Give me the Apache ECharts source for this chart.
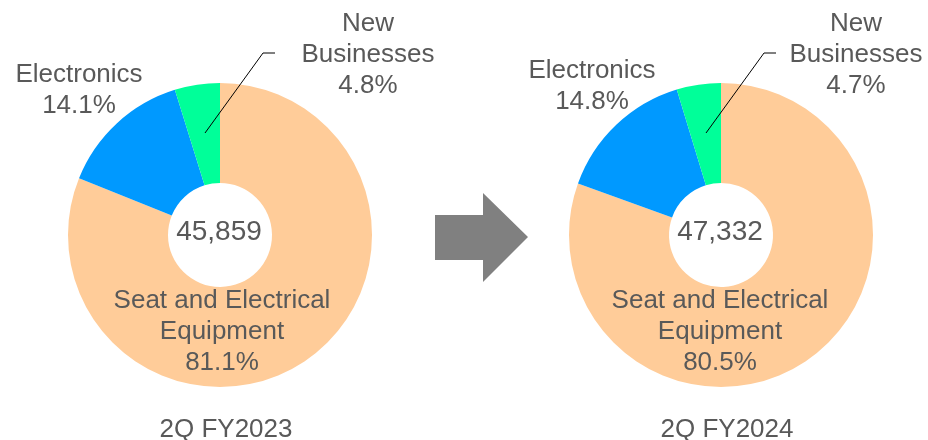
<!DOCTYPE html>
<html>
<head>
<meta charset="utf-8">
<script src="https://cdn.jsdelivr.net/npm/echarts@6/dist/echarts.min.js"></script>
<style>
  html, body { margin: 0; padding: 0; background: #fff; }
  #chart { width: 928px; height: 440px; }
</style>
</head>
<body>
<div id="chart"></div>
<script>
// Segment names and share of net sales (%) for each period
const segments = ['Seat and Electrical\nEquipment', 'Electronics', 'New\nBusinesses'];
const periods = ['2Q FY2023', '2Q FY2024'];
const share2023 = [81.1, 14.1, 4.8];
const share2024 = [80.5, 14.8, 4.7];
const totals = [45859, 47332];

const colors = ['#FFCC99', '#0099FF', '#00FF99'];
const textColor = '#595959';
const fontFamily = '"Liberation Sans", Arial, sans-serif';

// Donut centres
const centers = [[220, 235], [721, 235]];

// Label anchors per donut (segment order as above)
const labelAnchors = [
  [[222, 332], [79, 90], [368, 55]],
  [[720, 332], [592, 86], [856, 55]]
];
// Leader lines for the small "New Businesses" slice
const leaders = [
  [[205, 133], [263, 53], [275, 53]],
  [[706, 133], [764, 53], [776, 53]]
];

function buildSeries(values, idx) {
  return {
    type: 'pie',
    center: centers[idx],
    radius: [52, 152],
    startAngle: 90,
    clockwise: true,
    silent: true,
    animation: false,
    emphasis: { disabled: true },
    label: {
      show: true,
      position: 'outside',
      formatter: '{b}\n{c}%',
      color: textColor,
      fontSize: 26,
      lineHeight: 31,
      fontFamily: fontFamily,
      align: 'center',
      overflow: 'none'
    },
    labelLine: { show: false },
    labelLayout: function (p) {
      const a = labelAnchors[idx][p.dataIndex];
      return { x: a[0], y: a[1], align: 'center', verticalAlign: 'middle' };
    },
    data: values.map(function (v, i) {
      return {
        name: segments[i],
        value: v,
        itemStyle: { color: colors[i] }
      };
    })
  };
}

const graphics = [];
// Totals in the donut holes
totals.forEach(function (t, i) {
  graphics.push({
    type: 'text',
    x: centers[i][0] - 1,
    y: centers[i][1] - 3,
    silent: true,
    style: {
      text: t.toLocaleString('en-US'),
      fill: textColor,
      font: '28px ' + fontFamily,
      textAlign: 'center',
      textVerticalAlign: 'middle'
    }
  });
});
// Period captions
periods.forEach(function (p, i) {
  graphics.push({
    type: 'text',
    x: centers[i][0] + 6,
    y: 430,
    silent: true,
    style: {
      text: p,
      fill: textColor,
      font: '26px ' + fontFamily,
      textAlign: 'center',
      textVerticalAlign: 'middle'
    }
  });
});
// Leader lines, drawn above the slices
leaders.forEach(function (pts) {
  graphics.push({
    type: 'polyline',
    silent: true,
    z: 100,
    zlevel: 0,
    shape: { points: pts },
    style: { stroke: '#000', lineWidth: 1, fill: null }
  });
});
// Block arrow between the two periods
graphics.push({
  type: 'polygon',
  silent: true,
  shape: {
    points: [[435, 215], [483, 215], [483, 193], [528, 237], [483, 282], [483, 260], [435, 260]]
  },
  style: { fill: '#808080' }
});

const chart = echarts.init(document.getElementById('chart'), null, { renderer: 'canvas' });
chart.setOption({
  backgroundColor: '#ffffff',
  animation: false,
  series: [buildSeries(share2023, 0), buildSeries(share2024, 1)],
  graphic: { elements: graphics }
});
</script>
</body>
</html>
